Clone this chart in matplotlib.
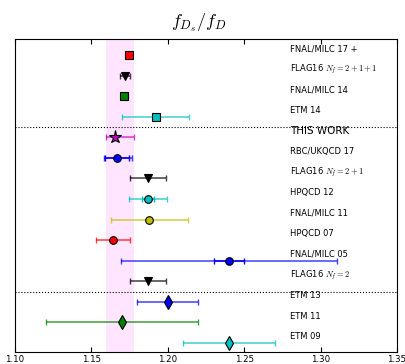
import matplotlib.pyplot as plt

plt.rcParams['mathtext.fontset'] = 'cm'

labels = ['FNAL/MILC 17 +', 'FLAG16 $N_f=2+1+1$', 'FNAL/MILC 14', 'ETM 14',
          'THIS WORK', 'RBC/UKQCD 17', 'FLAG16 $N_f=2+1$', 'HPQCD 12',
          'FNAL/MILC 11', 'HPQCD 07', 'FNAL/MILC 05',
          'FLAG16 $N_f=2$', 'ETM 13', 'ETM 11', 'ETM 09']
values = [1.1749, 1.172, 1.1716, 1.192,
          1.1652, 1.1667, 1.187, 1.187,
          1.188, 1.164, 1.24,
          1.187, 1.20, 1.17, 1.24]
err_lo = [0.0016, 0.003, 0.0020, 0.022,
          0.0055, 0.0085, 0.012, 0.0126,
          0.025, 0.011, 0.0707,
          0.012, 0.02, 0.05, 0.03]
err_hi = [0.0016, 0.003, 0.0020, 0.022,
          0.0125, 0.0100, 0.012, 0.0126,
          0.025, 0.011, 0.0707,
          0.012, 0.02, 0.05, 0.03]
# inner (statistical) errors where shown
inner = {5: 0.0077, 7: 0.004, 10: 0.01}
colors = ['r', 'k', 'g', 'c', 'm', 'b', 'k', 'c', 'y', 'r', 'b', 'k', 'b', 'g', 'c']
markers = ['s', 'v', 's', 's', '*', 'o', 'v', 'o', 'o', 'o', 'o', 'v', 'd', 'd', 'd']
sizes = [5.5, 6, 5.5, 5.5, 9.5, 5.5, 6, 5.5, 5.5, 5.5, 5.5, 6, 7, 7, 7]
band = (1.1597, 1.1777)

fig = plt.figure(figsize=(4.05, 3.64), dpi=100)
ax = fig.add_axes([0.037, 0.033, 0.943, 0.860])

n = len(labels)
ys = [n - i for i in range(n)]

ax.axvspan(band[0], band[1], color='magenta', alpha=0.1, lw=0)

for i in range(n):
    ax.errorbar(values[i], ys[i], xerr=[[err_lo[i]], [err_hi[i]]], fmt='none',
                ecolor=colors[i], elinewidth=1.1, capsize=2, capthick=1, alpha=0.75)
    if i in inner:
        ax.errorbar(values[i], ys[i], xerr=inner[i], fmt='none',
                    ecolor=colors[i], elinewidth=1.1, capsize=2, capthick=1)
    ax.plot(values[i], ys[i], marker=markers[i], color=colors[i], ms=sizes[i],
            mec='k', mew=0.8, ls='none')
    fs = 7.5 if labels[i] == 'THIS WORK' else 6
    ax.text(1.28, ys[i] + 0.3, labels[i], fontsize=fs, va='center', ha='left')

ax.axhline(11.5, color='k', ls=':', lw=0.8)
ax.axhline(3.5, color='k', ls=':', lw=0.8)

ax.set_xlim(1.10, 1.35)
ax.set_ylim(0.56, n + 0.78)
ax.set_yticks([])
ax.set_xticks([1.10, 1.15, 1.20, 1.25, 1.30, 1.35])
ax.tick_params(axis='x', direction='in', top=True, labelsize=6.2, pad=2)
ax.set_title('$f_{D_s}/f_D$', fontsize=13, pad=9, x=0.482)

fig.savefig('out.png', dpi=100)
